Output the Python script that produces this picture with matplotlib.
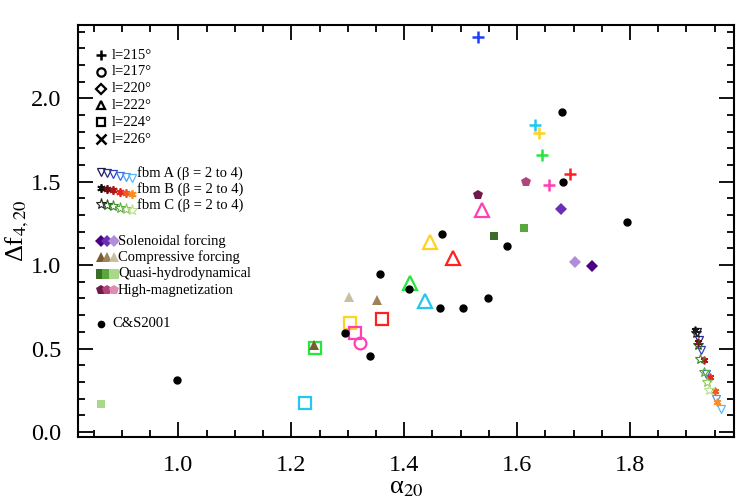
import numpy as np
import matplotlib
matplotlib.use('Agg')
import matplotlib.pyplot as plt
from matplotlib.ticker import MultipleLocator

plt.rcParams['font.family'] = ['Liberation Serif', 'DejaVu Serif']
plt.rcParams['mathtext.fontset'] = 'stix'

# observations, one list per longitude; colours give the individual fields
l215_a = [1.531, 1.632, 1.639, 1.645, 1.693, 1.657]
l215_f = [2.371, 1.838, 1.795, 1.662, 1.549, 1.479]
l215_c = ['#1f3fff', '#22c8f0', '#ffd21f', '#22e83c', '#ff2020', '#ff3fb4']

l217_a = [1.322]
l217_f = [0.531]
l217_c = ['#ff3fb4']

l222_a = [1.411, 1.437, 1.445, 1.487, 1.538]
l222_f = [0.890, 0.786, 1.140, 1.044, 1.333]
l222_c = ['#22e83c', '#22c8f0', '#ffd21f', '#ff2020', '#ff3fb4']

l224_a = [1.304, 1.360, 1.313, 1.242, 1.225]
l224_f = [0.655, 0.675, 0.595, 0.501, 0.172]
l224_c = ['#ffd21f', '#ff2020', '#ff3fb4', '#22e83c', '#22c8f0']

# fbm models, beta = 2 to 4
fbmA_a = [1.919, 1.922, 1.926, 1.935, 1.952, 1.962]
fbmA_f = [0.600, 0.550, 0.490, 0.350, 0.200, 0.140]
fbmB_a = [1.916, 1.921, 1.932, 1.942, 1.950, 1.955]
fbmB_f = [0.610, 0.540, 0.430, 0.330, 0.245, 0.180]
fbmC_a = [1.917, 1.921, 1.924, 1.932, 1.937, 1.940]
fbmC_f = [0.590, 0.520, 0.435, 0.360, 0.300, 0.250]
fbmA_c = ['#1a1a4a', '#2a2a8a', '#3040c0', '#3a6ee0', '#4a9af0', '#5ab8ff']
fbmB_c = ['#111111', '#6a1010', '#b01818', '#e02a20', '#f05a20', '#ff8c20']
fbmC_c = ['#222222', '#2a5a1a', '#3f8a2a', '#5aaa3a', '#8ac85a', '#b8e08a']

# MHD simulations
sol_a = [1.732, 1.678, 1.703]
sol_f = [0.996, 1.335, 1.018]
sol_c = ['#4b0082', '#6a2fb5', '#b08fd8']
comp_a = [1.240, 1.352, 1.303]
comp_f = [0.521, 0.790, 0.810]
comp_c = ['#7a5a2e', '#9c8458', '#c9bfa0']
quasi_a = [1.559, 1.612, 0.863]
quasi_f = [1.172, 1.224, 0.166]
quasi_c = ['#3a6e28', '#5aa83c', '#a8d88a']
hmag_a = [1.530, 1.615]
hmag_f = [1.423, 1.499]
hmag_c = ['#6e1a4a', '#b0457a', '#e08ab8']

# C&S2001
cs_a = [0.998, 1.296, 1.339, 1.358, 1.409, 1.464, 1.505, 1.549, 1.467, 1.582, 1.682, 1.679, 1.795]
cs_f = [0.311, 0.595, 0.455, 0.944, 0.855, 0.745, 0.745, 0.800, 1.184, 1.114, 1.499, 1.918, 1.259]

fig = plt.figure(figsize=(7.42, 5.01), dpi=100)
ax = fig.add_axes([0.105, 0.128, 0.884, 0.822])

for a, f, c in zip(l215_a, l215_f, l215_c):
    ax.plot(a, f, '+', color=c, ms=9, mew=1.8)
for a, f, c in zip(l217_a, l217_f, l217_c):
    ax.plot(a, f, 'o', mfc='none', mec=c, ms=8.5, mew=1.6)
for a, f, c in zip(l222_a, l222_f, l222_c):
    ax.plot(a, f, '^', mfc='none', mec=c, ms=9.5, mew=1.6)
for a, f, c in zip(l224_a, l224_f, l224_c):
    ax.plot(a, f, 's', mfc='none', mec=c, ms=8.5, mew=1.6)

for a, f, c in zip(fbmA_a, fbmA_f, fbmA_c):
    ax.plot(a, f, 'v', mfc='none', mec=c, ms=5.5, mew=0.9)
for a, f, c in zip(fbmB_a, fbmB_f, fbmB_c):
    ax.plot(a, f, marker=(6, 2, 0), ls='none', mec=c, ms=5.5, mew=1.2)
for a, f, c in zip(fbmC_a, fbmC_f, fbmC_c):
    ax.plot(a, f, '*', mfc='none', mec=c, ms=7, mew=0.8)

for a, f, c in zip(sol_a, sol_f, sol_c):
    ax.plot(a, f, 'D', color=c, ms=6, mew=0)
for a, f, c in zip(comp_a, comp_f, comp_c):
    ax.plot(a, f, '^', color=c, ms=6.5, mew=0)
for a, f, c in zip(quasi_a, quasi_f, quasi_c):
    ax.plot(a, f, 's', color=c, ms=6, mew=0)
for a, f, c in zip(hmag_a, hmag_f, hmag_c[:len(hmag_a)]):
    ax.plot(a, f, 'p', color=c, ms=7, mew=0)

ax.plot(cs_a, cs_f, 'o', color='black', ms=5, ls='none')

ax.set_xlim(0.822, 1.984)
ax.set_ylim(-0.03, 2.44)
ax.xaxis.set_major_locator(MultipleLocator(0.2))
ax.xaxis.set_minor_locator(MultipleLocator(0.05))
ax.yaxis.set_major_locator(MultipleLocator(0.5))
ax.yaxis.set_minor_locator(MultipleLocator(0.1))
ax.xaxis.set_major_formatter(matplotlib.ticker.FormatStrFormatter('%.1f'))
ax.yaxis.set_major_formatter(matplotlib.ticker.FormatStrFormatter('%.1f'))
ax.tick_params(which='both', direction='in', top=True, right=True, width=1.3, labelsize=17.5)
ax.tick_params(axis='x', which='major', length=11, pad=13)
ax.tick_params(axis='y', which='major', length=11, pad=12)
ax.tick_params(which='minor', length=5)
for s in ax.spines.values():
    s.set_linewidth(1.5)
ax.set_xlabel('α$_{20}$', fontsize=19)
ax.set_ylabel('Δf$_{4,20}$', fontsize=19)
ax.xaxis.set_label_coords(0.5, -0.097)
ax.yaxis.set_label_coords(-0.072, 0.5)

# hand-drawn legend (axes fraction)
def px(x, y):
    return (x - 78) / 656.0, (437 - y) / 412.0

kw = dict(transform=ax.transAxes, clip_on=False)
sym = [('+', 'l=215°'), ('o', 'l=217°'), ('D', 'l=220°'), ('^', 'l=222°'), ('s', 'l=224°'), ('x', 'l=226°')]
for i, (m, t) in enumerate(sym):
    x0, y0 = px(101, 55 + i * 16.8)
    if m in '+x':
        ax.plot(x0, y0, m, color='black', ms=6.5, mew=1.8, **kw)
    else:
        ax.plot(x0, y0, m, mfc='none', mec='black', ms=6 if m != 'D' else 5, mew=1.6, **kw)
    tx, ty = px(112, 55 + i * 16.8)
    ax.text(tx, ty, t, fontsize=10.5, va='center', transform=ax.transAxes)

fbm_rows = [('v', fbmA_c, 'fbm A (β = 2 to 4)'),
            ('b', fbmB_c, 'fbm B (β = 2 to 4)'),
            ('*', fbmC_c, 'fbm C (β = 2 to 4)')]
for i, (m, cols, t) in enumerate(fbm_rows):
    yb = 172 + i * 16
    for j, c in enumerate(cols):
        x0, y0 = px(101 + j * 6.2, yb + j * 1.2)
        if m == 'v':
            ax.plot(x0, y0, 'v', mfc='none', mec=c, ms=6, mew=0.9, **kw)
        elif m == 'b':
            ax.plot(x0, y0, marker=(6, 2, 0), mec=c, ms=6, mew=1.3, **kw)
        else:
            ax.plot(x0, y0, '*', mfc='none', mec=c, ms=8, mew=0.8, **kw)
    tx, ty = px(137, yb + 1)
    ax.text(tx, ty, t, fontsize=10.5, va='center', transform=ax.transAxes)

sim_rows = [('D', sol_c, 'Solenoidal forcing'),
            ('^', comp_c, 'Compressive forcing'),
            ('s', quasi_c, 'Quasi-hydrodynamical'),
            ('p', hmag_c, 'High-magnetization')]
for i, (m, cols, t) in enumerate(sim_rows):
    yb = 241 + i * 16.5
    for j, c in enumerate(cols):
        x0, y0 = px(101 + j * 6.5, yb)
        ax.plot(x0, y0, m, color=c, ms=7 if m != 'D' else 6.5, mew=0, **kw)
    tx, ty = px(118, yb)
    ax.text(tx, ty, t, fontsize=10.5, va='center', transform=ax.transAxes)

x0, y0 = px(101, 324)
ax.plot(x0, y0, 'o', color='black', ms=4.5, **kw)
tx, ty = px(112, 324)
ax.text(tx, ty, 'C&S2001', fontsize=10.5, va='center', transform=ax.transAxes)

fig.savefig('out.png', dpi=100)
